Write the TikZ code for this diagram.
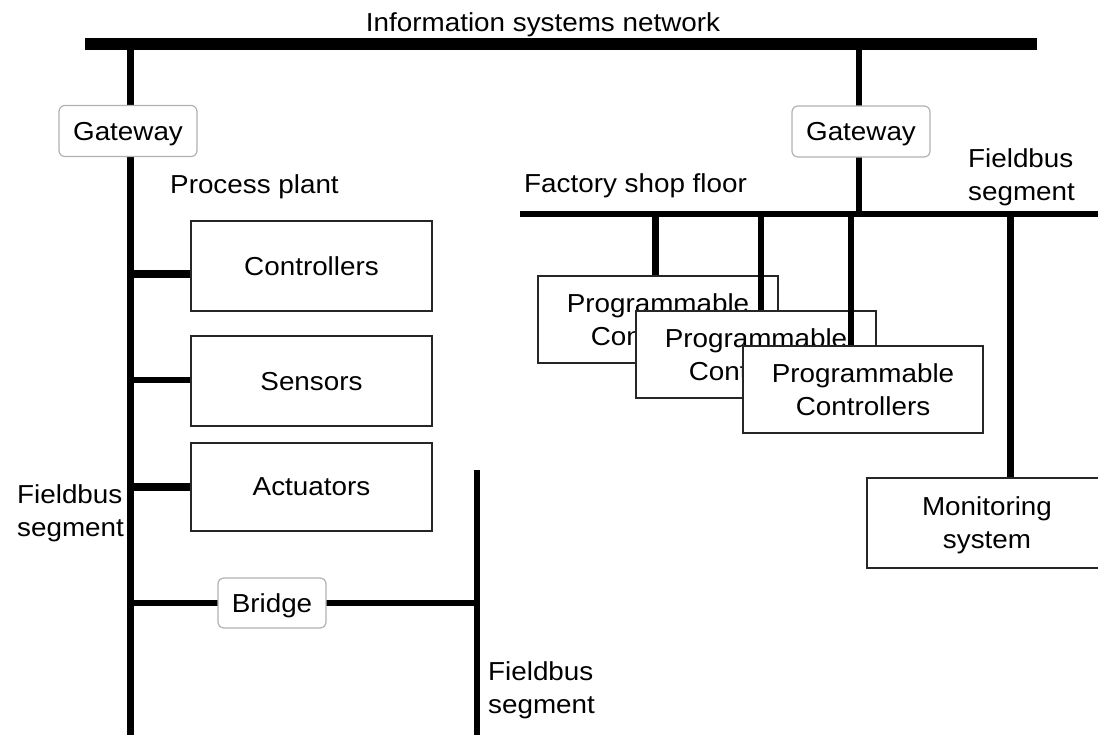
\documentclass[tikz,border=0pt]{standalone}
\usepackage{fontspec}
\setmainfont{Liberation Sans}[FakeStretch=1.07]
\pgfdeclarelayer{back}
\pgfdeclarelayer{dA}
\pgfdeclarelayer{pB}
\pgfdeclarelayer{dB}
\pgfdeclarelayer{pC}
\pgfsetlayers{back,main,dA,pB,dB,pC}
\begin{document}
\begin{tikzpicture}[x=1pt,y=-1pt,
  every node/.style={font=\fontsize{26}{33}\selectfont, text=black, text depth=0pt},
  box/.style={draw=black!85, line width=1.3pt, fill=white, minimum width=241pt, minimum height=90pt, inner sep=0pt, align=center},
  gw/.style={draw=black!30, line width=1.2pt, rounded corners=6pt, fill=white, minimum width=138pt, minimum height=51pt, inner sep=0pt},
  lbl/.style={inner sep=0pt, align=left, font=\fontsize{26}{33}\selectfont},
  wire/.style={line width=#1, line cap=butt, black}]
\useasboundingbox (0,0) rectangle (1098,734);
\clip (0,0) rectangle (1098,734);

% labels
\node[lbl] (title) at (543,22) {Information systems network};
\node[lbl, anchor=west] (pplant) at (170,184) {Process plant};
\node[lbl, anchor=west] (fbL) at (17,511) {Fieldbus\\segment};
\node[lbl, anchor=west] (fsf) at (524,183) {Factory shop floor};
\node[lbl, anchor=west] (fbR) at (968,175) {Fieldbus\\segment};
\node[lbl, anchor=west] (fbB) at (488,688) {Fieldbus\\segment};

% nodes
\node[gw] (gw1) at (128,131) {Gateway};
\node[gw] (gw2) at (861,131.5) {Gateway};
\node[box] (ctrl) at (311.5,266) {Controllers};
\node[box] (sens) at (311.5,381) {Sensors};
\node[box, minimum height=88pt] (act) at (311.5,487) {Actuators};
\node[gw, minimum width=108pt, minimum height=50pt] (bridge) at (272,603) {Bridge};
\node[box, minimum width=240pt, minimum height=87pt] (pc1) at (658,319.5) {Programmable\\Controllers};
\begin{pgfonlayer}{pB}
\node[box, minimum width=240pt, minimum height=87pt] (pc2) at (756,354.5) {Programmable\\Controllers};
\end{pgfonlayer}
\begin{pgfonlayer}{pC}
\node[box, minimum width=240pt, minimum height=87pt] (pc3) at (863,389.5) {Programmable\\Controllers};
\end{pgfonlayer}
\node[box, minimum width=240pt, minimum height=90pt] (mon) at (987,523) {Monitoring\\system};

% bus coordinates
\coordinate (tbL) at (85,44);
\coordinate (tbR) at (1037,44);
\coordinate (lbT) at (130.5,44);
\coordinate (lbB) at (130.5,740);
\coordinate (gwT) at (859,44);
\coordinate (fbusL) at (520,214);
\coordinate (fbusR) at (1100,214);
\coordinate (gwB) at (859,214);
\coordinate (cC) at (130.5,274);
\coordinate (cS) at (130.5,380);
\coordinate (cA) at (130.5,487);
\coordinate (cB) at (130.5,603);
\coordinate (rbT) at (477,470);
\coordinate (rbB) at (477,740);
\coordinate (rbM) at (477,603);
\coordinate (d1) at (655,214);
\coordinate (d2) at (761,214);
\coordinate (d3) at (851,214);
\coordinate (dm) at (1010,214);

\begin{pgfonlayer}{back}
\draw[wire=12pt] (tbL) -- (tbR);
\draw[wire=7.5pt] (lbT) -- (lbB);
\draw[wire=6pt] (gwT) -- (gwB);
\draw[wire=6pt] (fbusL) -- (fbusR);
\draw[wire=8pt] (cC) -- (cC -| ctrl.west);
\draw[wire=6pt] (cS) -- (cS -| sens.west);
\draw[wire=8pt] (cA) -- (cA -| act.west);
\draw[wire=6pt] (cB) -- (rbM);
\draw[wire=6pt] (rbT) -- (rbB);
\draw[wire=7pt] (d1) -- (d1 |- pc1.north);
\draw[wire=7pt] (dm) -- (dm |- mon.north);
\end{pgfonlayer}
\begin{pgfonlayer}{dA}
\draw[wire=5.5pt] (d2) -- (d2 |- pc2.north);
\end{pgfonlayer}
\begin{pgfonlayer}{dB}
\draw[wire=5.5pt] (d3) -- (d3 |- pc3.north);
\end{pgfonlayer}
\end{tikzpicture}
\end{document}
